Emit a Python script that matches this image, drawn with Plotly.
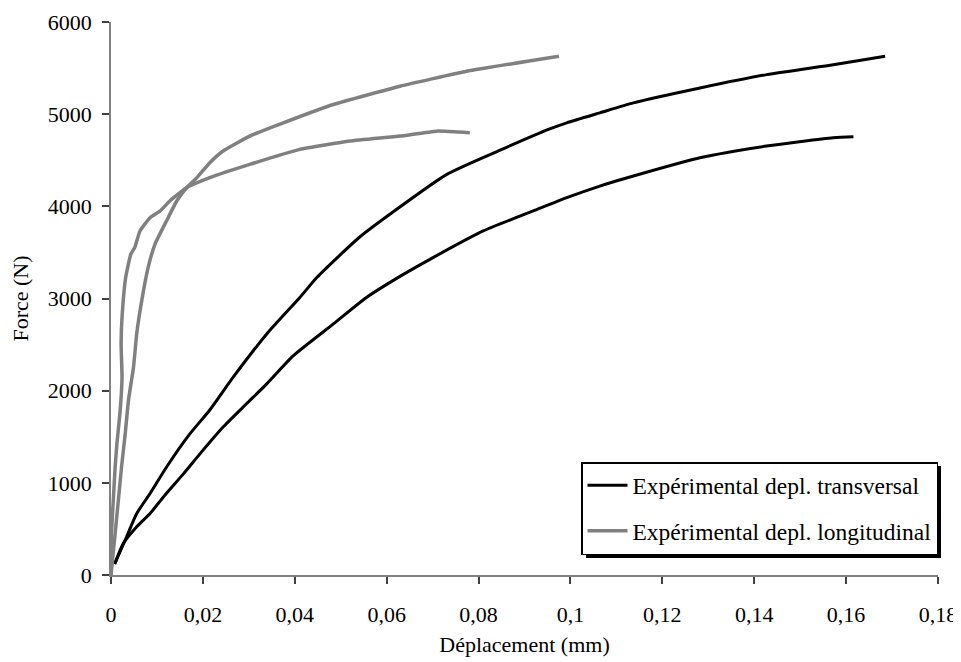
import plotly.graph_objects as go

# ---- data ----
trans_hi_x = [0.0008, 0.0034, 0.0056, 0.0085, 0.0121, 0.0172, 0.0215, 0.0266, 0.0339, 0.0411,
              0.0448, 0.0542, 0.0607, 0.0731, 0.0847, 0.0955, 0.0992, 0.1064, 0.1137, 0.1282,
              0.1427, 0.1572, 0.1685]
trans_hi_y = [120, 415, 667, 884, 1172, 1533, 1790, 2146, 2615, 3011,
              3228, 3670, 3914, 4347, 4610, 4840, 4906, 5014, 5122, 5284,
              5429, 5537, 5628]

trans_lo_x = [0.0008, 0.0027, 0.0056, 0.0085, 0.0114, 0.0158, 0.0194, 0.0244, 0.0295, 0.0339,
              0.0397, 0.0484, 0.0556, 0.0629, 0.0701, 0.0810, 0.0919, 0.0992, 0.1064, 0.1137,
              0.1282, 0.1427, 0.1572, 0.1616]
trans_lo_y = [120, 343, 523, 667, 847, 1100, 1317, 1605, 1858, 2074,
              2380, 2724, 3011, 3240, 3444, 3733, 3950, 4094, 4220, 4329,
              4527, 4654, 4744, 4754]

long_hi_x = [0.0, 0.0009, 0.0016, 0.0023, 0.0031, 0.0038, 0.0049, 0.0056, 0.0067, 0.0081,
             0.0096, 0.0121, 0.0143, 0.0165, 0.0187, 0.0215, 0.0244, 0.0302, 0.0375, 0.0484,
             0.0629, 0.0774, 0.0975]
long_hi_y = [0, 450, 810, 1175, 1535, 1895, 2255, 2620, 2980, 3340,
             3593, 3843, 4058, 4203, 4311, 4473, 4600, 4762, 4906, 5105,
             5303, 5465, 5628]

long_lo_x = [0.0, 0.0001, 0.0005, 0.0009, 0.0013, 0.0020, 0.0024, 0.0022, 0.0025, 0.0032,
             0.0043, 0.0052, 0.0063, 0.0085, 0.0107, 0.0128, 0.0165, 0.0215, 0.0302, 0.0411,
             0.0520, 0.0629, 0.0709, 0.0781]
long_lo_y = [0, 450, 810, 1170, 1430, 1785, 2145, 2510, 2870, 3230,
             3480, 3557, 3733, 3877, 3950, 4058, 4203, 4311, 4455, 4618,
             4708, 4762, 4816, 4798]

x_ticks = [0, 0.02, 0.04, 0.06, 0.08, 0.1, 0.12, 0.14, 0.16, 0.18]
x_tick_labels = ["0", "0,02", "0,04", "0,06", "0,08", "0,1", "0,12", "0,14", "0,16", "0,18"]
y_ticks = [0, 1000, 2000, 3000, 4000, 5000, 6000]
y_tick_labels = ["0", "1000", "2000", "3000", "4000", "5000", "6000"]

name_trans = "Expérimental depl. transversal"
name_long = "Expérimental depl. longitudinal"

BLACK = "#000000"
GREY = "#808080"
FONT = "Liberation Serif"

fig = go.Figure()
fig.add_trace(go.Scatter(x=trans_hi_x, y=trans_hi_y, mode="lines", name=name_trans,
                         legendgroup="t",
                         line=dict(color=BLACK, width=3, shape="spline", smoothing=0.6)))
fig.add_trace(go.Scatter(x=trans_lo_x, y=trans_lo_y, mode="lines", name=name_trans,
                         legendgroup="t", showlegend=False,
                         line=dict(color=BLACK, width=3, shape="spline", smoothing=0.6)))
fig.add_trace(go.Scatter(x=long_hi_x, y=long_hi_y, mode="lines", name=name_long,
                         legendgroup="l",
                         line=dict(color=GREY, width=3.5, shape="spline", smoothing=0.4)))
fig.add_trace(go.Scatter(x=long_lo_x, y=long_lo_y, mode="lines", name=name_long,
                         legendgroup="l", showlegend=False,
                         line=dict(color=GREY, width=3.5, shape="spline", smoothing=0.4)))

axis_common = dict(showgrid=False, zeroline=False, showline=True, linecolor="#808080",
                   linewidth=1.5, ticks="outside", ticklen=7, tickcolor="#404040", tickwidth=1.5,
                   automargin=False,
                   tickfont=dict(family=FONT, size=22, color="black"))

fig.update_xaxes(range=[0, 0.18], tickvals=x_ticks, ticktext=x_tick_labels,
                 ticklabelstandoff=12,
                 title=dict(text="Déplacement (mm)", font=dict(family=FONT, size=22, color="black"),
                            standoff=10),
                 **axis_common)
fig.update_yaxes(range=[0, 6000], tickvals=y_ticks, ticktext=y_tick_labels,
                 ticklabelstandoff=6,
                 title=dict(text="Force (N)", font=dict(family=FONT, size=22, color="black"),
                            standoff=15),
                 **axis_common)

# the page adds an 8px offset; plot area target: x 111..938, y 22..575 in the window
L, R, T, B = 103, 31, 14, 95
PW, PH = 961 - L - R, 662 - T - B


def px_x(p):
    return (p - 8 - L) / PW


def px_y(p):
    return (662 - B - (p - 8)) / PH


# legend drop shadow (offset rectangle behind the legend box)
fig.add_shape(type="rect", xref="paper", yref="paper", layer="below",
              x0=px_x(586), x1=px_x(941), y0=px_y(558), y1=px_y(466),
              fillcolor="black", line=dict(width=0))

fig.update_layout(
    width=961, height=662,
    margin=dict(l=L, r=R, t=T, b=B),
    paper_bgcolor="white", plot_bgcolor="white",
    font=dict(family=FONT, size=22, color="black"),
    legend=dict(x=px_x(938), xanchor="right", y=px_y(555), yanchor="bottom",
                bgcolor="white", bordercolor="black", borderwidth=1.5,
                traceorder="grouped", tracegroupgap=12, itemwidth=40,
                font=dict(family=FONT, size=23.5, color="black")),
)

fig.write_html("out.html")
